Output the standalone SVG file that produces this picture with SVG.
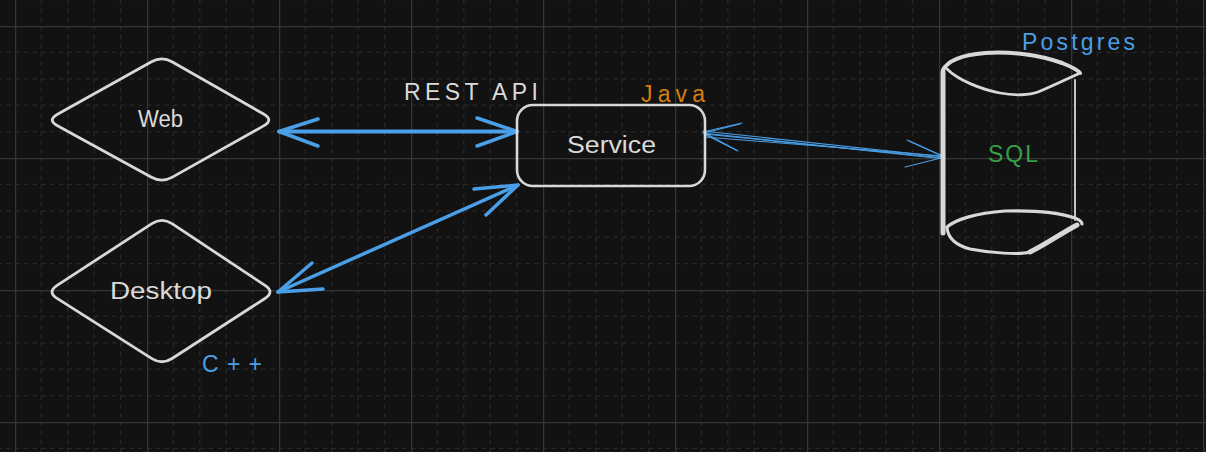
<svg xmlns="http://www.w3.org/2000/svg" width="1206" height="452" viewBox="0 0 1206 452">
<style>
.bg{fill:#121212}
.major{stroke:#353535;stroke-width:1.3;fill:none}
.minor{stroke:#282828;stroke-width:1.2;stroke-dasharray:4.4 4.4;fill:none}
.shape{fill:none;stroke:#d8d8d8;stroke-linejoin:round;stroke-linecap:round}
.lbl{font-family:"Liberation Sans",Arial,sans-serif;font-size:23px;fill:#dadada}
.blue{fill:#4a9fe6}
.orange{fill:#d4800e}
.green{fill:#36a046}
.conn{fill:none;stroke:#4a9fe6;stroke-linecap:round;stroke-linejoin:round}
</style>
<defs>
<pattern id="grid" patternUnits="userSpaceOnUse" x="15" y="26" width="132" height="132">
<path class="minor" d="M26.4 0V132M52.8 0V132M79.2 0V132M105.6 0V132M0 26.4H132M0 52.8H132M0 79.2H132M0 105.6H132"/>
<path class="major" d="M0.6 0V132M0 0.6H132"/>
</pattern>
</defs>
<rect class="bg" width="1206" height="452"/>
<rect width="1206" height="452" fill="url(#grid)"/>

<g id="connectors">
<g id="web-service" stroke-width="4" class="conn">
<path d="M279 131.5L517 131.5"/>
<path d="M318 119L279 131.5L318 146" stroke-width="3.5"/>
<path d="M477 118L517 131.5L477 146" stroke-width="3.5"/>
</g>
<g id="desktop-service" class="conn" stroke-width="3.5">
<path d="M278 292L518 185"/>
<path d="M312 263L278 292L323 289"/>
<path d="M474 189L518 185L486 215"/>
</g>
<g id="service-db" class="conn" stroke-width="1.1">
<path d="M703 131L945 157"/>
<path d="M704 134L944 158"/>
<path d="M705 137L943 156"/>
<path d="M703 133L945 159"/>
<path d="M742 123L703 132L738 151"/>
<path d="M740 124L704 133M706 135L736 150"/>
<path d="M907 140L945 157L905 167"/>
<path d="M909 141L944 157"/>
</g>
</g>

<g id="web">
<path class="shape" style="stroke-width:2.8" d="M57.5 114.2L151.5 61.8Q162 56 172.4 62L263.6 114Q274 120 263.6 125.9L172.4 177.1Q162 183 151.5 177.2L57.5 125.8Q47 120 57.5 114.2Z"/>
<text class="lbl" x="138" y="127" textLength="45" lengthAdjust="spacingAndGlyphs">Web</text>
</g>

<g id="desktop">
<path class="shape" style="stroke-width:2.8" d="M57.1 285.4L151.9 223.6Q162 217 172 223.6L265 285.4Q275 292 264.9 298.5L172.1 358.5Q162 365 151.9 358.6L57.1 298.4Q47 292 57.1 285.4Z"/>
<text class="lbl" x="110" y="299" textLength="102" lengthAdjust="spacingAndGlyphs">Desktop</text>
</g>
<text id="cpp" class="lbl blue" x="202" y="372" textLength="60" lengthAdjust="spacing">C++</text>

<g id="service">
<rect class="shape" style="stroke-width:2.6" x="517" y="105" width="188" height="81" rx="16"/>
<text class="lbl" x="567" y="153" textLength="89" lengthAdjust="spacingAndGlyphs">Service</text>
</g>
<text id="rest" class="lbl" x="404" y="100" textLength="134" lengthAdjust="spacing">REST API</text>
<text id="java" class="lbl orange" x="641" y="102" textLength="64" lengthAdjust="spacing">Java</text>

<g id="postgres">
<path class="shape" style="stroke-width:4" d="M943 70C948 60 962 55 985 53C1010 51 1040 55 1062 63C1072 67 1078 70 1080 73"/>
<path class="shape" style="stroke-width:2.8" d="M1078 74C1065 80 1048 88 1038 92C1030 95 1015 96 1000 93C980 89 958 80 947 69"/>
<path class="shape" style="stroke-width:5" d="M943 72L943 233"/>
<path class="shape" style="stroke-width:1.8" d="M1075 80L1075 220"/>
<path class="shape" style="stroke-width:3.2" d="M947 227C955 220 975 213 1005 211C1035 210 1060 213 1075 218C1080 220 1082 222 1082 224"/>
<path class="shape" style="stroke-width:3" d="M947 228C948 237 955 245 970 249C990 253 1020 255 1030 252"/>
<path class="shape" style="stroke-width:5" d="M1030 252C1045 245 1060 234 1077 225"/>
<text class="lbl green" x="988" y="162" textLength="50" lengthAdjust="spacing">SQL</text>
</g>
<text id="pg" class="lbl blue" x="1022" y="50" textLength="113" lengthAdjust="spacing">Postgres</text>
</svg>
